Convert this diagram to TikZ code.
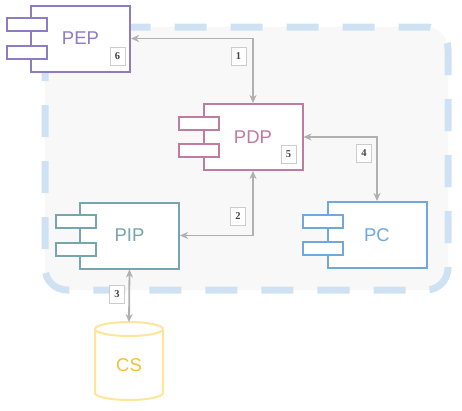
\documentclass[tikz,border=0pt]{standalone}
\usepackage{fontspec}
\setmainfont{Liberation Sans}
\newfontfamily\badgefont{Liberation Serif}
\usetikzlibrary{arrows.meta}
\definecolor{pepc}{HTML}{8E7CC3}
\definecolor{pdpc}{HTML}{C27BA0}
\definecolor{pipc}{HTML}{76A5AF}
\definecolor{pcc}{HTML}{6FA8DC}
\definecolor{csc}{HTML}{FFE599}
\definecolor{cstext}{HTML}{F1C232}
\definecolor{framec}{HTML}{CFE2F3}
\definecolor{bgc}{HTML}{F8F8F8}
\definecolor{connc}{HTML}{B0B0B0}
\definecolor{badgec}{HTML}{CCCCCC}
\definecolor{badget}{HTML}{444444}
\tikzset{
  compbox/.style={draw=#1, line width=2pt, fill=white, minimum width=99pt, minimum height=66pt, inner sep=0pt, text=#1, font=\fontsize{18.5}{22}\selectfont},
  portbox/.style={draw=#1, line width=2pt, fill=white, minimum width=40pt, minimum height=13pt, inner sep=0pt},
  badge/.style={draw=badgec, line width=1pt, fill=white, minimum width=15pt, minimum height=18pt, inner sep=0pt, text=badget, font=\badgefont\bfseries\fontsize{10.5}{12}\selectfont},
  conn/.style={draw=connc, line width=1.8pt, {Stealth[length=8pt,width=7pt,inset=2.5pt]}-{Stealth[length=8pt,width=7pt,inset=2.5pt]}},
  frame/.style={draw=framec, line width=7pt, dash pattern=on 32pt off 24pt, rounded corners=22pt, fill=bgc},
}
\newcommand\mycomp[5]{%
  \node[compbox=#4] (#1) at (#2,#3) {#5};
  \node[portbox=#4] (#1p1) at ([xshift=-3.5pt,yshift=14pt]#1.west) {};
  \node[portbox=#4] (#1p2) at ([xshift=-3.5pt,yshift=-13.5pt]#1.west) {};
}
\begin{document}
\begin{tikzpicture}[x=1pt,y=-1pt]
\useasboundingbox (0,0) rectangle (462,410);
\path[frame] (45,27) rectangle (448,290);
\mycomp{pep}{80.5}{38.5}{pepc}{PEP}
\mycomp{pdp}{253}{137}{pdpc}{PDP}
\mycomp{pip}{129.5}{235.5}{pipc}{PIP}
\mycomp{pc}{377}{235}{pcc}{PC}
% CS cylinder
\coordinate (cstop) at (129,322);
\path[draw=csc, line width=2pt, fill=white] (95,329) -- (95,393) arc[start angle=180, end angle=360, x radius=34, y radius=-7] -- (163,329) arc[start angle=0, end angle=180, x radius=34, y radius=-7] -- cycle;
\draw[csc, line width=2pt] (163,329) arc[start angle=0, end angle=-180, x radius=34, y radius=-7];
\node[text=cstext, font=\fontsize{18.5}{22}\selectfont] (cs) at (129,365) {CS};
% connectors
\draw[conn] (pep.east) -| (pdp.north);
\draw[conn] (pdp.east) -| (pc.north);
\draw[conn] (pdp.south) |- (pip.east);
\draw[conn] (pip.south) -- (cstop);
% badges
\node[badge] (b1) at (238.5,56) {1};
\node[badge] (b2) at (238,216.5) {2};
\node[badge] (b3) at (117,294) {3};
\node[badge] (b4) at (364,153) {4};
\node[badge] (b5) at (288.5,154) {5};
\node[badge] (b6) at (117.5,56) {6};
\end{tikzpicture}
\end{document}
